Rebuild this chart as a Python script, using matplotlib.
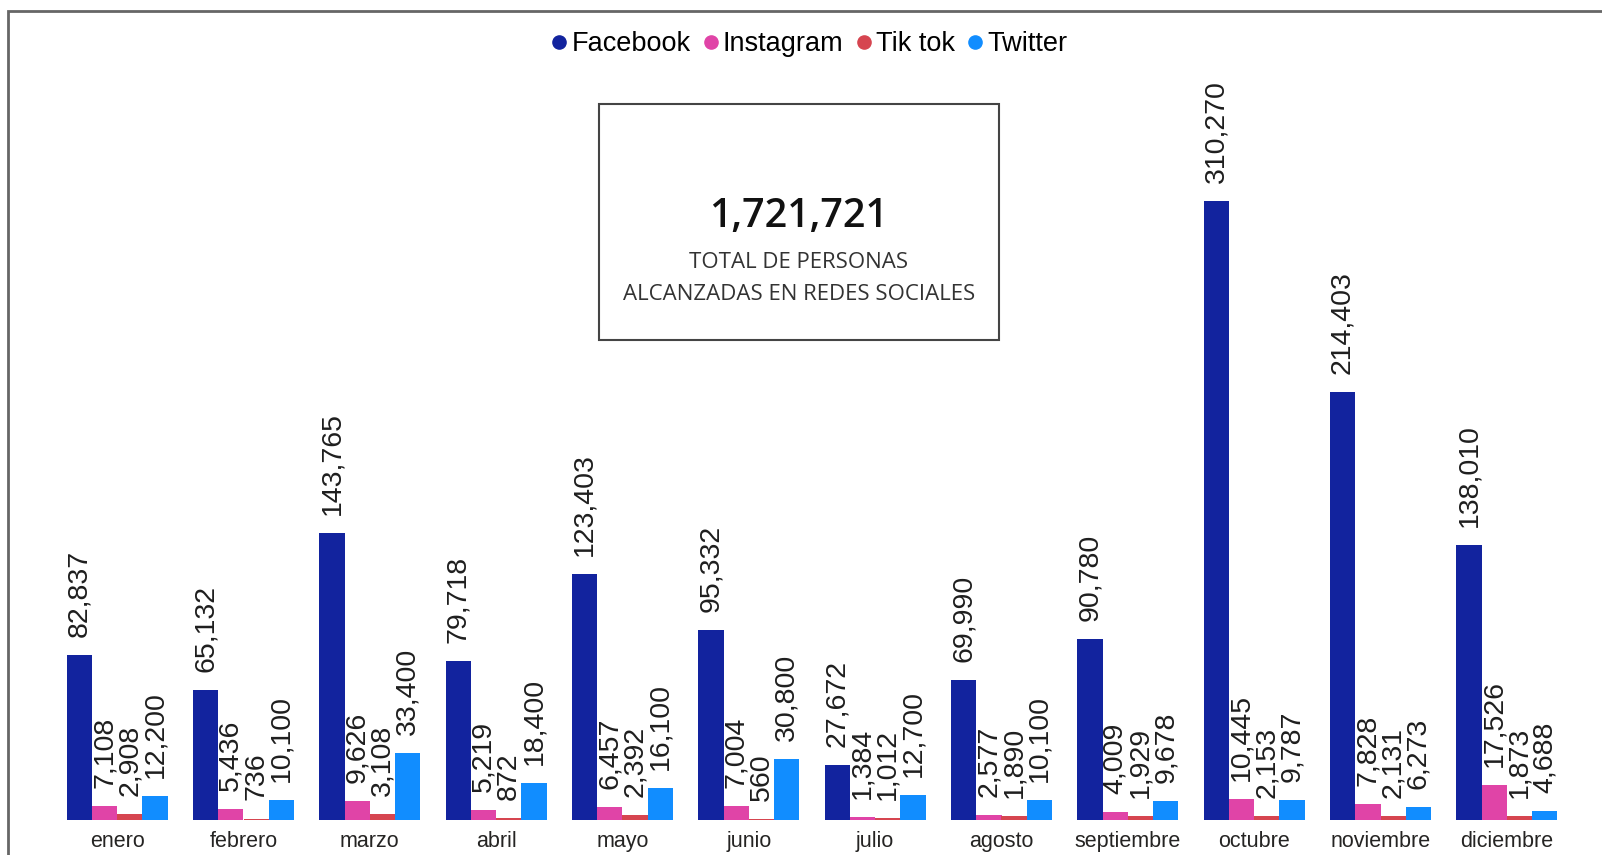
import numpy as np
import matplotlib.pyplot as plt
from matplotlib.patches import Rectangle
from matplotlib.lines import Line2D

meses = ["enero", "febrero", "marzo", "abril", "mayo", "junio", "julio",
         "agosto", "septiembre", "octubre", "noviembre", "diciembre"]
facebook = [82837, 65132, 143765, 79718, 123403, 95332, 27672, 69990, 90780, 310270, 214403, 138010]
instagram = [7108, 5436, 9626, 5219, 6457, 7004, 1384, 2577, 4009, 10445, 7828, 17526]
tiktok = [2908, 736, 3108, 872, 2392, 560, 1012, 1890, 1929, 2153, 2131, 1873]
twitter = [12200, 10100, 33400, 18400, 16100, 30800, 12700, 10100, 9678, 9787, 6273, 4688]

series = [("Facebook", facebook, "#12239E"),
          ("Instagram", instagram, "#E044A7"),
          ("Tik tok", tiktok, "#D64550"),
          ("Twitter", twitter, "#118DFF")]

W, H = 1602, 855
fig = plt.figure(figsize=(W / 100, H / 100), dpi=100)

# marco gris de la página
fig.patches.append(Rectangle((8 / W, -0.05), 1.2, 1 - 11 / H + 0.05, transform=fig.transFigure,
                             fill=False, edgecolor="#666666", lw=2, zorder=0))

ax = fig.add_axes([54 / W, (H - 820) / H, (1570 - 54) / W, (820 - 60) / H])
x = np.arange(len(meses))
ancho = 0.2
for i, (nombre, valores, color) in enumerate(series):
    pos = x + (i - 1.5) * ancho
    ax.bar(pos, valores, width=ancho, color=color, label=nombre)
    for p, v in zip(pos, valores):
        ax.annotate(f"{v:,}", (p, v), xytext=(0, 13), textcoords="offset points",
                    rotation=90, ha="center", va="bottom", fontsize=20.5,
                    family="Liberation Sans", color="#1e1e1e", clip_on=False)

ax.set_xlim(-0.5, len(meses) - 0.5)
ax.set_ylim(0, 381000)
ax.set_xticks(x)
ax.set_xticklabels(meses, fontsize=15.5, family="Liberation Sans", color="#252423")
ax.tick_params(axis="x", length=0, pad=8)
ax.set_yticks([])
for s in ax.spines.values():
    s.set_visible(False)

# leyenda
handles = [Line2D([], [], marker="o", ls="", color=c, markersize=9.5) for _, _, c in series]
fig.legend(handles, [n for n, _, _ in series], loc="center", bbox_to_anchor=(810 / W, 1 - 44 / H),
           ncol=4, frameon=False, handlelength=0.5, handletextpad=0.2, columnspacing=0.5,
           prop={"family": "Liberation Sans", "size": 19.5})

# tarjeta con el total
total = sum(facebook) + sum(instagram) + sum(tiktok) + sum(twitter)
fig.patches.append(Rectangle((599 / W, 1 - 340 / H), 400 / W, 236 / H, transform=fig.transFigure,
                             fill=False, edgecolor="#444444", lw=1.5))
fig.text(799 / W, 1 - 217 / H, f"{total:,}", ha="center", va="center", fontsize=28.5,
         family="Open Sans", fontweight="semibold", color="#111111")
fig.text(799 / W, 1 - 263 / H, "TOTAL DE PERSONAS", ha="center", va="center", fontsize=16,
         family="Open Sans", color="#333333")
fig.text(799 / W, 1 - 294 / H, "ALCANZADAS EN REDES SOCIALES", ha="center", va="center",
         fontsize=16, family="Open Sans", color="#333333")

fig.savefig("out.png", dpi=100)
